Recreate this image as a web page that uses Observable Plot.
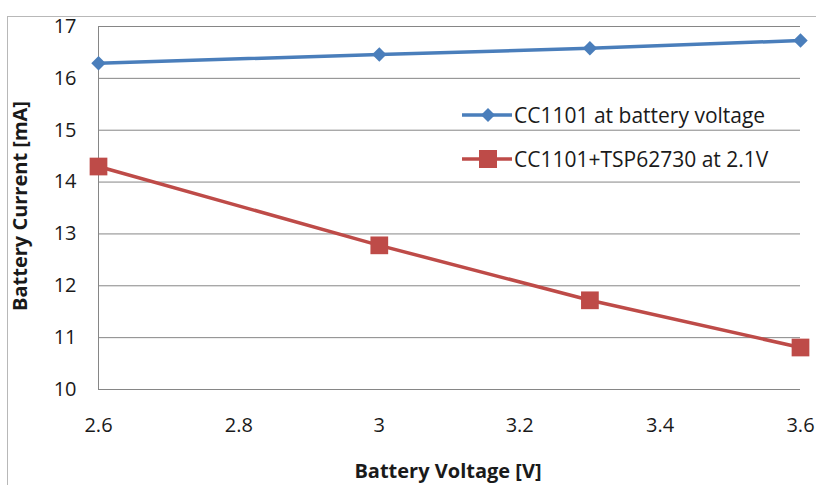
<!DOCTYPE html>
<html>
<head>
<meta charset="utf-8">
<script src="https://cdn.jsdelivr.net/npm/d3@7"></script>
<script src="https://cdn.jsdelivr.net/npm/@observablehq/plot@0.6"></script>
<style>
  html, body { margin: 0; padding: 0; background: #fff; }
  #wrap { position: relative; width: 816px; height: 485px; overflow: hidden; font-family: "Open Sans", Lato, sans-serif; color: #1a1a1a; }
  #border { position: absolute; left: 7px; top: 16px; width: 900px; height: 600px; border: 1px solid #b8b8b8; box-sizing: border-box; }
  .title { position: absolute; font-weight: bold; font-size: 20px; line-height: 20px; white-space: nowrap; }
  .leg { position: absolute; display: flex; align-items: center; font-size: 21px; line-height: 22px; white-space: nowrap; }
  svg.plot text { fill: #1a1a1a; }
</style>
</head>
<body>
<div id="wrap">
  <div id="border"></div>
  <div id="chart"></div>
</div>
<script>
const voltages = [2.6, 3.0, 3.3, 3.6];
const seriesNames = ["CC1101 at battery voltage", "CC1101+TSP62730 at 2.1V"];
const ccBattery = [16.29, 16.46, 16.58, 16.73];
const ccTsp = [14.30, 12.78, 11.72, 10.81];
const xTicks = [2.6, 2.8, 3.0, 3.2, 3.4, 3.6];
const yTicks = [10, 11, 12, 13, 14, 15, 16, 17];
const colors = ["#4A7EBB", "#BE4B48"];
const xTitle = "Battery Voltage [V]";
const yTitle = "Battery Current [mA]";

const data = [];
voltages.forEach((v, i) => {
  data.push({v, mA: ccBattery[i], s: seriesNames[0]});
  data.push({v, mA: ccTsp[i], s: seriesNames[1]});
});
const d0 = data.filter(d => d.s === seriesNames[0]);
const d1 = data.filter(d => d.s === seriesNames[1]);
const fmt = d => String(+d.toFixed(1));

const chart = Plot.plot({
  width: 816,
  height: 485,
  marginLeft: 98,
  marginRight: 16,
  marginTop: 26,
  marginBottom: 96,
  style: {fontFamily: "'Open Sans', Lato, sans-serif", fontSize: "20px", background: "transparent", overflow: "visible"},
  x: {domain: [2.6, 3.6], ticks: xTicks, tickFormat: fmt},
  y: {domain: [10, 17], ticks: yTicks, tickFormat: fmt},
  marks: [
    Plot.gridY(yTicks, {stroke: "#868686", strokeOpacity: 1, strokeWidth: 1}),
    Plot.ruleX([2.6], {stroke: "#868686", strokeWidth: 1}),
    Plot.axisY({ticks: yTicks, tickSize: 0, tickPadding: 22, label: null, tickFormat: fmt}),
    Plot.axisX({ticks: xTicks, tickSize: 0, tickPadding: 28, label: null, tickFormat: fmt}),
    Plot.line(d0, {x: "v", y: "mA", stroke: colors[0], strokeWidth: 3.5}),
    Plot.dot(d0, {x: "v", y: "mA", symbol: "diamond2", r: 6.5, fill: colors[0], stroke: "none"}),
    Plot.line(d1, {x: "v", y: "mA", stroke: colors[1], strokeWidth: 3.5}),
    Plot.dot(d1, {x: "v", y: "mA", symbol: "square", r: 10, fill: colors[1], stroke: "none"})
  ]
});
chart.classList.add("plot");
document.getElementById("chart").appendChild(chart);

const wrap = document.getElementById("wrap");
chart.style.position = "absolute";
chart.style.left = "0px";
chart.style.top = "0px";

const xt = document.createElement("div");
xt.className = "title";
xt.textContent = xTitle;
xt.style.left = "448px"; xt.style.top = "471px";
xt.style.transform = "translate(-50%,-50%)";
wrap.appendChild(xt);

const yt = document.createElement("div");
yt.className = "title";
yt.textContent = yTitle;
yt.style.left = "20px"; yt.style.top = "206px";
yt.style.transform = "translate(-50%,-50%) rotate(-90deg)";
wrap.appendChild(yt);

// Legend
const legTops = [115, 159];
seriesNames.forEach((name, i) => {
  const row = document.createElement("div");
  row.className = "leg";
  row.style.left = "462px";
  row.style.top = legTops[i] + "px";
  row.style.transform = "translateY(-50%)";
  const marker = i === 0
    ? `<path d="M26,-7 L33,0 L26,7 L19,0 Z" fill="${colors[0]}"/>`
    : `<rect x="17" y="-9" width="18" height="18" fill="${colors[1]}"/>`;
  row.innerHTML = `<svg width="51" height="20" viewBox="0 -10 51 20" style="display:block"><line x1="0" x2="50" y1="0" y2="0" stroke="${colors[i]}" stroke-width="3.5"/>${marker}</svg><span style="margin-left:1px">${name}</span>`;
  wrap.appendChild(row);
});
</script>
</body>
</html>
